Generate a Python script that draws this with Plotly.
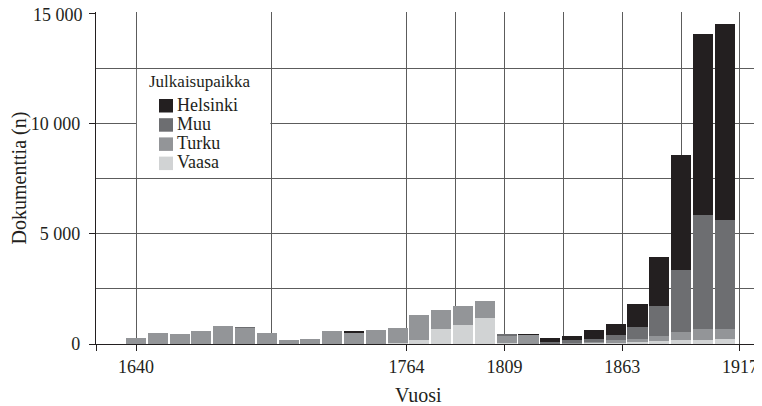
import plotly.graph_objects as go

# Decade bins (bar centres)
years = [1640, 1650, 1660, 1670, 1680, 1690, 1700, 1710, 1720, 1730,
         1740, 1750, 1760, 1770, 1780, 1790, 1800, 1810, 1820, 1830,
         1840, 1850, 1860, 1870, 1880, 1890, 1900, 1910]

helsinki = [0, 0, 0, 0, 0, 0, 0, 0, 0, 0,
            30, 0, 0, 0, 0, 0, 0, 0, 40, 180,
            180, 430, 500, 1040, 2220, 5210, 8200, 8880]
muu = [0, 0, 0, 0, 0, 30, 0, 0, 0, 0,
       0, 0, 0, 0, 0, 0, 0, 30, 0, 60,
       120, 90, 225, 545, 1360, 2810, 5165, 4940]
turku = [270, 500, 450, 590, 815, 740, 500, 180, 230, 590,
         515, 635, 685, 1130, 860, 860, 770, 350, 410, 30,
         60, 100, 150, 165, 255, 390, 500, 450]
vaasa = [0, 0, 0, 0, 0, 0, 0, 0, 0, 0,
         0, 0, 40, 180, 680, 860, 1180, 30, 0, 0,
         0, 30, 45, 75, 120, 165, 195, 240]

x_ticks = [1640, 1764, 1809, 1863, 1917]
x_minor = [1702, 1786.5, 1836, 1890]
y_ticks = [0, 5000, 10000, 15000]
y_labels = ["0", "5 000", "10 000", "15 000"]
y_minor = [2500, 7500, 12500]

series_names = ["Helsinki", "Muu", "Turku", "Vaasa"]
legend_title = "Julkaisupaikka"
x_title = "Vuosi"
y_title = "Dokumenttia (n)"
colors = {"Vaasa": "#d1d3d4", "Turku": "#939598", "Muu": "#6d6e71", "Helsinki": "#231f20"}

FONT = 'Liberation Serif, "Times New Roman", "DejaVu Serif", serif'
TXT = "#231f20"
GRID = "#5c5c5c"

# page is shown with an 8px body margin; figure is sized to fill the window
W, H = 754, 398
ML, MR, MT, MB = 88, 0, 4, 62
PW, PH = W - ML - MR, H - MT - MB
OFF = 8


def px(page_x):
    return (page_x - OFF - ML) / PW


def py(page_y):
    return 1 - (page_y - OFF - MT) / PH


x_lo, x_hi = 1621.65, 1927.1
y_hi = 15000 * PH / (PH - 1)   # keeps the 15 000 gridline 1px inside the plot

fig = go.Figure()
data = {"Vaasa": vaasa, "Turku": turku, "Muu": muu, "Helsinki": helsinki}
for name in ["Vaasa", "Turku", "Muu", "Helsinki"]:
    fig.add_trace(go.Bar(x=years, y=data[name], name=name, width=9.2,
                         marker=dict(color=colors[name], line=dict(width=0)),
                         showlegend=False))

# white box behind the legend, between the gridlines
fig.add_shape(type="rect", xref="x", yref="y", x0=1640.4, x1=1701.6, y0=7540, y1=12460,
              fillcolor="white", line=dict(width=0), layer="between")

# legend (title, swatches, labels)
fig.add_annotation(text=legend_title, xref="paper", yref="paper", x=px(147), y=py(81.5),
                   xanchor="left", yanchor="middle", showarrow=False,
                   font=dict(size=17, family=FONT, color=TXT))
row_top = [99, 118.2, 137.4, 156.6]
for name, top in zip(series_names, row_top):
    fig.add_shape(type="rect", xref="paper", yref="paper",
                  x0=px(159), x1=px(173), y0=py(top), y1=py(top + 13.5),
                  fillcolor=colors[name], line=dict(width=0), layer="above")
    fig.add_annotation(text=name, xref="paper", yref="paper", x=px(174.5), y=py(top + 5.5),
                       xanchor="left", yanchor="middle", showarrow=False,
                       font=dict(size=18, family=FONT, color=TXT))

# x axis title
fig.add_annotation(text=x_title, xref="paper", yref="paper", x=px(418), y=py(395),
                   xanchor="center", yanchor="middle", showarrow=False,
                   font=dict(size=20, family=FONT, color=TXT))

# top y label drawn as annotation so it is not clipped at the page edge
fig.add_annotation(text=y_labels[-1], xref="paper", yref="y", x=px(85), y=y_ticks[-1],
                   yshift=-2, xanchor="right", yanchor="middle", showarrow=False,
                   font=dict(size=18, family=FONT, color=TXT))

fig.update_layout(
    barmode="stack",
    width=W, height=H,
    margin=dict(l=ML, r=MR, t=MT, b=MB, autoexpand=False),
    paper_bgcolor="white", plot_bgcolor="white",
    font=dict(family=FONT, size=18, color=TXT),
    showlegend=False,
    xaxis=dict(
        range=[x_lo, x_hi],
        automargin=False,
        tickmode="array",
        tickvals=[x_lo] + x_ticks,
        ticktext=[""] + [str(v) for v in x_ticks],
        ticks="outside", ticklen=6, tickwidth=1.2, tickcolor=TXT,
        showgrid=True, gridcolor=GRID, gridwidth=1,
        minor=dict(tickvals=x_minor, showgrid=True, gridcolor=GRID, gridwidth=1, ticklen=0),
        showline=True, linecolor=TXT, linewidth=1.3,
        zeroline=False,
        ticklabeloverflow="allow",
        tickfont=dict(size=18, family=FONT, color=TXT),
    ),
    yaxis=dict(
        range=[0, y_hi],
        automargin=False,
        tickmode="array",
        tickvals=y_ticks, ticktext=y_labels[:-1] + [""],
        ticks="outside", ticklen=6, tickwidth=1.2, tickcolor=TXT,
        ticklabelstandoff=5,
        ticklabeloverflow="allow",
        showgrid=True, gridcolor=GRID, gridwidth=1,
        minor=dict(tickvals=y_minor, showgrid=True, gridcolor=GRID, gridwidth=1, ticklen=0),
        showline=True, linecolor=TXT, linewidth=1.3,
        zeroline=False,
        title=dict(text=y_title, font=dict(size=20, family=FONT, color=TXT), standoff=8),
        tickfont=dict(size=18, family=FONT, color=TXT),
    ),
)

fig.write_html("out.html")
